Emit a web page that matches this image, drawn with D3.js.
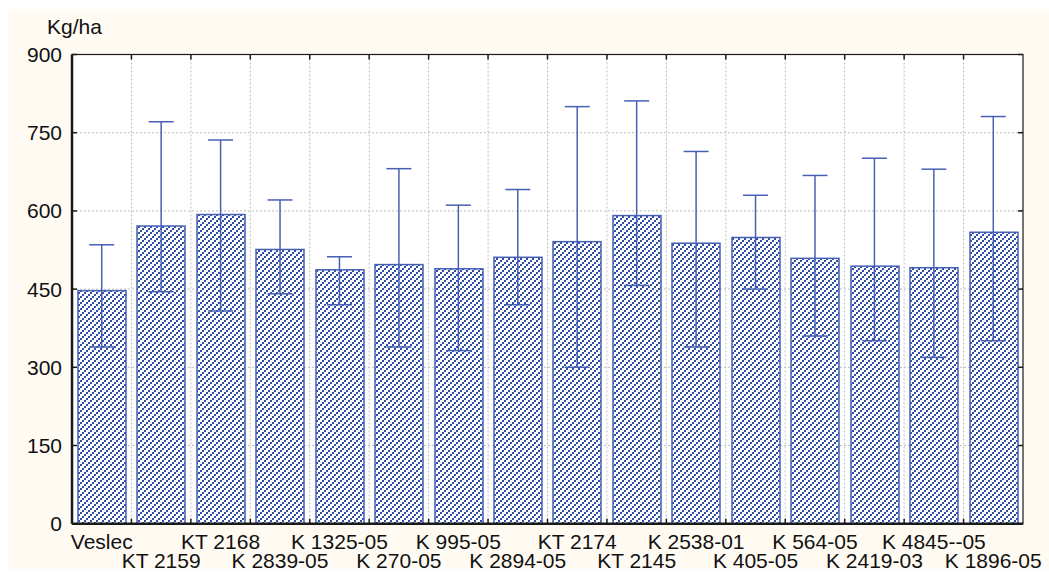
<!DOCTYPE html>
<html>
<head>
<meta charset="utf-8">
<script src="https://cdn.jsdelivr.net/npm/d3@7"></script>
<style>
  body { margin: 0; background: #fff; }
  svg { display: block; font-family: "Liberation Sans", Arial, sans-serif; }
</style>
</head>
<body>
<svg id="chart" width="1049" height="572"></svg>
<script>
// varieties, mean yield and error bar limits (kg/ha)
var varieties = ["Veslec", "KT 2159", "KT 2168", "K 2839-05", "K 1325-05", "K 270-05",
                 "K 995-05", "K 2894-05", "KT 2174", "KT 2145", "K 2538-01", "K 405-05",
                 "K 564-05", "K 2419-03", "K 4845--05", "K 1896-05"];
var means = [447, 571, 593, 526, 487, 497, 489, 511, 541, 591, 538, 549, 509, 494, 491, 559];
var upper = [535, 771, 736, 621, 512, 681, 611, 641, 800, 811, 714, 630, 668, 701, 680, 781];
var lower = [339, 445, 408, 441, 420, 339, 332, 420, 300, 457, 339, 450, 360, 351, 319, 351];
var yTicks = [0, 150, 300, 450, 600, 750, 900];

var svg = d3.select("#chart");
var plotLeft = 72, plotRight = 1023, plotTop = 54.5, plotBottom = 523.7;
var blue = "#4660b6";

// cream page background
svg.append("rect").attr("x", 8).attr("y", 9).attr("width", 1041).attr("height", 560)
   .attr("fill", "#fffbf3");
svg.append("rect").attr("x", plotLeft).attr("y", plotTop)
   .attr("width", plotRight - plotLeft).attr("height", plotBottom - plotTop)
   .attr("fill", "#fff");

// hatch pattern for the bars: "/" staircase of 2px squares
var defs = svg.append("defs");
var pat = defs.append("pattern").attr("id", "hatch").attr("patternUnits", "userSpaceOnUse")
              .attr("width", 6).attr("height", 6);
pat.append("rect").attr("width", 6).attr("height", 6).attr("fill", "#fff");
[[0, 4], [2, 2], [4, 0]].forEach(function(p) {
    pat.append("rect").attr("x", p[0]).attr("y", p[1]).attr("width", 2).attr("height", 2)
       .attr("fill", "#2f4ca8").attr("shape-rendering", "crispEdges");
});

var x = d3.scaleBand().domain(varieties).range([plotLeft, plotRight]).padding(0);
var y = d3.scaleLinear().domain([0, 900]).range([plotBottom, plotTop]);
var bw = x.bandwidth();

// gridlines
var grid = svg.append("g").attr("stroke", "#bdbdbd").attr("stroke-dasharray", "2,2").attr("stroke-width", 1);
yTicks.slice(1, -1).forEach(function(t) {
    grid.append("line").attr("x1", plotLeft).attr("x2", plotRight).attr("y1", y(t)).attr("y2", y(t));
});
varieties.slice(1).forEach(function(v) {
    grid.append("line").attr("x1", x(v)).attr("x2", x(v)).attr("y1", plotTop).attr("y2", plotBottom);
});

// bars
svg.append("g").selectAll("rect").data(varieties).enter().append("rect")
   .attr("x", function(d) { return Math.round(x(d) + bw * 0.1); })
   .attr("width", Math.round(bw * 0.8))
   .attr("y", function(d, i) { return y(means[i]); })
   .attr("height", function(d, i) { return y(0) - y(means[i]); })
   .attr("fill", "url(#hatch)")
   .attr("stroke", blue).attr("stroke-width", 1.5);

// error bars
var eb = svg.append("g").attr("stroke", blue).attr("stroke-width", 1.5);
varieties.forEach(function(v, i) {
    var cx = x(v) + bw / 2, hw = bw * 0.21;
    eb.append("line").attr("x1", cx).attr("x2", cx).attr("y1", y(upper[i])).attr("y2", y(lower[i]));
    eb.append("line").attr("x1", cx - hw).attr("x2", cx + hw).attr("y1", y(upper[i])).attr("y2", y(upper[i]));
    eb.append("line").attr("x1", cx - hw).attr("x2", cx + hw).attr("y1", y(lower[i])).attr("y2", y(lower[i]));
});

// frame with inward ticks
var frame = svg.append("g").attr("stroke", "#1a1a1a").attr("fill", "none");
frame.append("rect").attr("x", plotLeft).attr("y", plotTop)
     .attr("width", plotRight - plotLeft).attr("height", plotBottom - plotTop)
     .attr("stroke-width", 1.2);
frame.append("line").attr("x1", plotLeft).attr("x2", plotLeft).attr("y1", plotTop).attr("y2", plotBottom).attr("stroke-width", 2.5);
frame.append("line").attr("x1", plotLeft).attr("x2", plotRight).attr("y1", plotBottom).attr("y2", plotBottom).attr("stroke-width", 2.5);
yTicks.forEach(function(t) {
    frame.append("line").attr("x1", plotLeft).attr("x2", plotLeft + 5).attr("y1", y(t)).attr("y2", y(t)).attr("stroke-width", 1.5);
    frame.append("line").attr("x1", plotRight).attr("x2", plotRight - 5).attr("y1", y(t)).attr("y2", y(t)).attr("stroke-width", 1.5);
});
varieties.slice(1).forEach(function(v) {
    frame.append("line").attr("x1", x(v)).attr("x2", x(v)).attr("y1", plotBottom).attr("y2", plotBottom - 5).attr("stroke-width", 1.5);
    frame.append("line").attr("x1", x(v)).attr("x2", x(v)).attr("y1", plotTop).attr("y2", plotTop + 5).attr("stroke-width", 1.5);
});

// y tick labels
svg.append("g").selectAll("text").data(yTicks).enter().append("text")
   .attr("x", plotLeft - 10).attr("y", function(d) { return y(d) + 7.5; })
   .attr("text-anchor", "end").attr("font-size", 21).attr("fill", "#111")
   .text(function(d) { return d; });

// x labels, staggered on two rows
svg.append("g").selectAll("text").data(varieties).enter().append("text")
   .attr("x", function(d) { return x(d) + bw / 2; })
   .attr("y", function(d, i) { return i % 2 === 0 ? 549 : 568; })
   .attr("text-anchor", "middle").attr("font-size", 21).attr("fill", "#111")
   .text(function(d) { return d; });

// unit label
svg.append("text").attr("x", 47).attr("y", 34).attr("font-size", 21).attr("fill", "#111").text("Kg/ha");
</script>
</body>
</html>
